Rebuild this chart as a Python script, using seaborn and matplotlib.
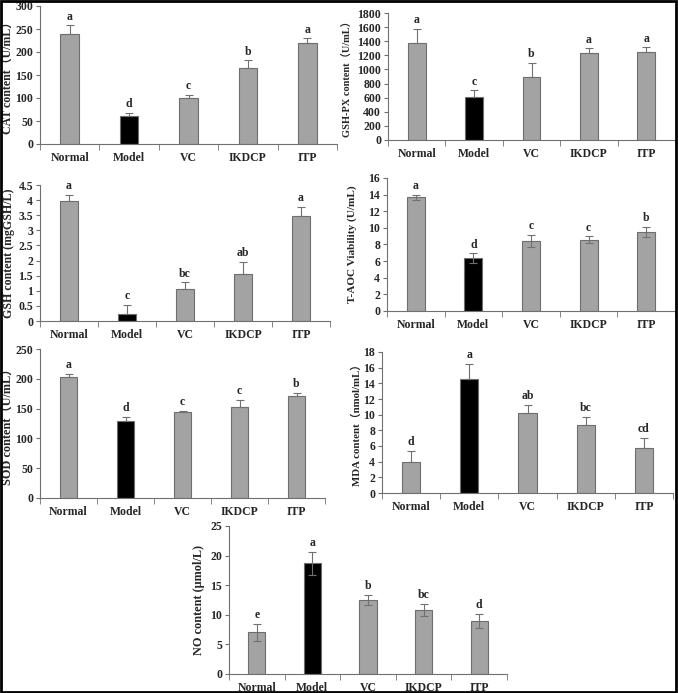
import numpy as np
import pandas as pd
import seaborn as sns
import matplotlib.pyplot as plt
from matplotlib.patches import Rectangle

sns.set_style("ticks")
plt.rcParams['font.family'] = ['Liberation Serif', 'Noto Sans CJK SC', 'DejaVu Sans']
plt.rcParams['font.weight'] = 'bold'

groups = ["Normal", "Model", "VC", "IKDCP", "ITP"]

cat_mean = [239, 60.7, 99, 165, 220.5]
cat_err = [19, 7, 8, 17, 9]
cat_sig = ["a", "d", "c", "b", "a"]

gpx_mean = [1376, 608, 900, 1239, 1253]
gpx_err = [198, 94, 198, 61, 62]
gpx_sig = ["a", "c", "b", "a", "a"]

gsh_mean = [3.97, 0.22, 1.06, 1.57, 3.49]
gsh_err = [0.2, 0.32, 0.22, 0.38, 0.29]
gsh_sig = ["a", "c", "bc", "ab", "a"]

taoc_mean = [13.68, 6.32, 8.44, 8.6, 9.52]
taoc_err = [0.28, 0.6, 0.76, 0.4, 0.64]
taoc_sig = ["a", "d", "c", "c", "b"]

sod_mean = [203.7, 130, 144, 153.5, 171.3]
sod_err = [5, 6.7, 2.8, 10.5, 4.5]
sod_sig = ["a", "d", "c", "c", "b"]

mda_mean = [3.91, 14.55, 10.26, 8.68, 5.79]
mda_err = [1.5, 1.95, 1.02, 1.02, 1.23]
mda_sig = ["d", "a", "ab", "bc", "cd"]

no_mean = [7.02, 18.7, 12.47, 10.84, 8.88]
no_err = [1.41, 1.97, 0.83, 0.96, 1.18]
no_sig = ["e", "a", "b", "bc", "d"]

W, H = 678, 693
fig = plt.figure(figsize=(W / 100, H / 100), dpi=100)

def box(l, t, r, b):
    return fig.add_axes([l / W, 1 - b / H, (r - l) / W, (b - t) / H])

panels = [
    # box, means, errs, letters, ylabel, label size, label right edge px, ymax, step, both-sided
    ((40, 6, 337, 144), cat_mean, cat_err, cat_sig, "CAT content（U/mL）", 8.6, 14, 300, 50, False),
    ((388, 13, 675, 140), gpx_mean, gpx_err, gpx_sig, "GSH-PX content（U/mL）", 7.5, 353, 1800, 200, False),
    ((40, 185, 330, 321), gsh_mean, gsh_err, gsh_sig, "GSH content (mgGSH/L)", 8.6, 15, 4.5, 0.5, False),
    ((387, 178, 675, 311), taoc_mean, taoc_err, taoc_sig, "T-AOC Viability (U/mL)", 8.1, 357, 16, 2, True),
    ((40, 349, 325, 498), sod_mean, sod_err, sod_sig, "SOD content（U/mL）", 8.8, 14, 250, 50, False),
    ((382, 352, 673, 493), mda_mean, mda_err, mda_sig, "MDA content（nmol/mL）", 7.8, 362, 18, 2, False),
    ((229, 526, 507, 674), no_mean, no_err, no_sig, "NO content (μmol/L)", 8.8, 205, 25, 5, True),
]

colors = ["#a3a3a3", "#000000", "#a3a3a3", "#a3a3a3", "#a3a3a3"]

for bx, mean, err, sig, ylab, lsize, lx, ymax, step, both in panels:
    ax = box(*bx)
    df = pd.DataFrame({"group": groups, "value": mean})
    sns.barplot(data=df, x="group", y="value", hue="group", palette=colors,
                width=0.31, edgecolor="#6e6e6e", linewidth=0.8, legend=False, ax=ax)
    x = np.arange(len(groups))
    err = np.array(err)
    lower = err if both else np.zeros_like(err)
    ax.errorbar(x, mean, yerr=[lower, err], fmt="none", ecolor="#707070",
                elinewidth=0.8, capsize=3, capthick=0.8)
    for xi, m, e, s in zip(x, mean, err, sig):
        ax.text(xi, m + e + ymax * 0.02, s, ha="center", va="bottom",
                fontsize=8.5, fontweight="bold")
    ax.set_xlim(-0.5, 4.5)
    ax.set_ylim(0, ymax)
    ticks = np.arange(0, ymax + step / 2, step)
    ax.set_yticks(ticks)
    ax.set_yticklabels(["{:g}".format(t) for t in ticks])
    ax.set_xticks(x)
    ax.set_xticks(np.arange(-0.5, 5, 1), minor=True)
    ax.tick_params(axis="x", which="major", length=0, labelsize=8.5, pad=6)
    ax.tick_params(axis="x", which="minor", length=4, color="#707070", direction="out")
    ax.tick_params(axis="y", length=3, color="#707070", labelsize=8.5, pad=2)
    for lab in ax.get_xticklabels() + ax.get_yticklabels():
        lab.set_fontweight("bold")
    ax.set_xlabel("")
    ax.set_ylabel(ylab, fontsize=lsize, fontweight="bold")
    ax.yaxis.set_label_coords((lx - bx[0]) / (bx[2] - bx[0]), 0.5)
    sns.despine(ax=ax)
    ax.spines["left"].set_color("#707070")
    ax.spines["bottom"].set_color("#707070")
    ax.patch.set_alpha(0)

fig.patches.append(Rectangle((0.002, 0.002), 0.995, 0.996, transform=fig.transFigure,
                             fill=False, edgecolor="black", linewidth=2))

fig.savefig("out.png", dpi=100)
